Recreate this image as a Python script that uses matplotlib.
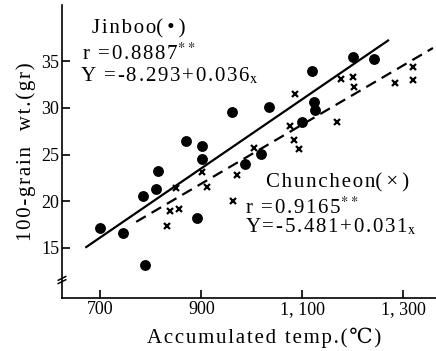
import matplotlib
matplotlib.use('Agg')
import matplotlib.pyplot as plt
import matplotlib.transforms as mtransforms

# Jinboo (dots)
jinboo_temp = [699, 745, 788, 785, 811, 814, 869, 901, 901, 892, 961, 986, 1019, 1035,
               1099, 1120, 1123, 1126, 1200, 1242]
jinboo_wt = [17.1, 16.6, 13.2, 20.6, 21.3, 23.2, 26.4, 25.9, 24.5, 18.2, 29.5, 24.0, 25.1, 30.1,
             28.5, 33.9, 30.6, 29.8, 35.4, 35.2]
jinboo_fit_x = [672, 1270]
jinboo_fit_y = [15.1, 37.2]

# Chuncheon (crosses)
chun_temp = [833, 837, 855, 850, 901, 912, 963, 971, 1004, 1075, 1083, 1093, 1085, 1169,
             1177, 1200, 1202, 1283, 1319, 1319]
chun_wt = [17.4, 19.0, 19.2, 21.4, 23.1, 21.5, 20.0, 22.8, 25.7, 28.0, 26.6, 25.6, 31.5, 28.5,
           33.1, 33.3, 32.2, 32.7, 34.4, 33.0]
chun_fit_x = [771, 1359]
chun_fit_y = [17.8, 36.4]

xticks = [700, 900, 1100, 1300]
xticklabels = ['700', '900', '1, 100', '1, 300']
yticks = [15, 20, 25, 30, 35]

plt.rcParams['font.family'] = ['Liberation Serif', 'DejaVu Serif', 'DejaVu Sans']
plt.rcParams['mathtext.fontset'] = 'stix'

W, H = 436, 351
fig = plt.figure(figsize=(W / 100, H / 100), dpi=100)
ax = fig.add_axes([62 / W, 1 - 298 / H, (W - 62) / W, (298 - 5) / H])


def sp(s):
    # loose letter spacing like the typeset original
    return '\u200a'.join(s)


ax.plot(jinboo_temp, jinboo_wt, 'o', color='black', markersize=6.8, clip_on=False)
ax.plot(chun_temp, chun_wt, 'x', color='black', markersize=4, mew=1.6, clip_on=False)
ax.plot(jinboo_fit_x, jinboo_fit_y, '-', color='black', lw=1.6)
ax.plot(chun_fit_x, chun_fit_y, '--', color='black', lw=1.6, dashes=(5, 3))

ax.set_xlim(624, 1365)
ax.set_ylim(9.65, 41)
ax.set_xticks(xticks)
ax.set_xticklabels(xticklabels, fontsize=13)
ax.set_yticks(yticks)
ax.set_yticklabels([str(v) for v in yticks], fontsize=13)
ax.tick_params(direction='in', length=6, width=1.2, pad=2)
ax.spines['top'].set_visible(False)
ax.spines['right'].set_visible(False)
ax.spines['left'].set_linewidth(1.2)
ax.spines['bottom'].set_linewidth(1.2)

# axis break marks
tr = mtransforms.blended_transform_factory(ax.transAxes, ax.transData)
for yb in [11.75, 11.4]:
    ax.plot([-0.01, 0.01], [yb - 0.2, yb + 0.2], color='black', lw=1.1,
            transform=tr, clip_on=False)

ax.set_xlabel(sp('Accumulated temp.(℃)'), fontsize=15)
ax.xaxis.set_label_coords(0.54, -0.1)
ax.set_ylabel(sp('100-grain  wt.(gr)'), fontsize=15, labelpad=4)


def ftext(px, py, s, size=15):
    fig.text(px / W, 1 - py / H, s, ha='left', va='center', fontsize=size)


ftext(92, 29, sp('Jinboo') + '(\u2009\u2022\u2009)')
ftext(82, 54, sp('r =0.8887') + '$^{**}$')
ftext(80, 76, sp('Y =-8.293+0.036') + '$_{\\mathrm{x}}$')
ftext(266, 183, sp('Chuncheon') + '(\u2009\u00d7\u2009)')
ftext(245, 208, sp('r =0.9165') + '$^{**}$')
ftext(245, 227, sp('Y=-5.481+0.031') + '$_{\\mathrm{x}}$')

fig.savefig('out.png', dpi=100)
